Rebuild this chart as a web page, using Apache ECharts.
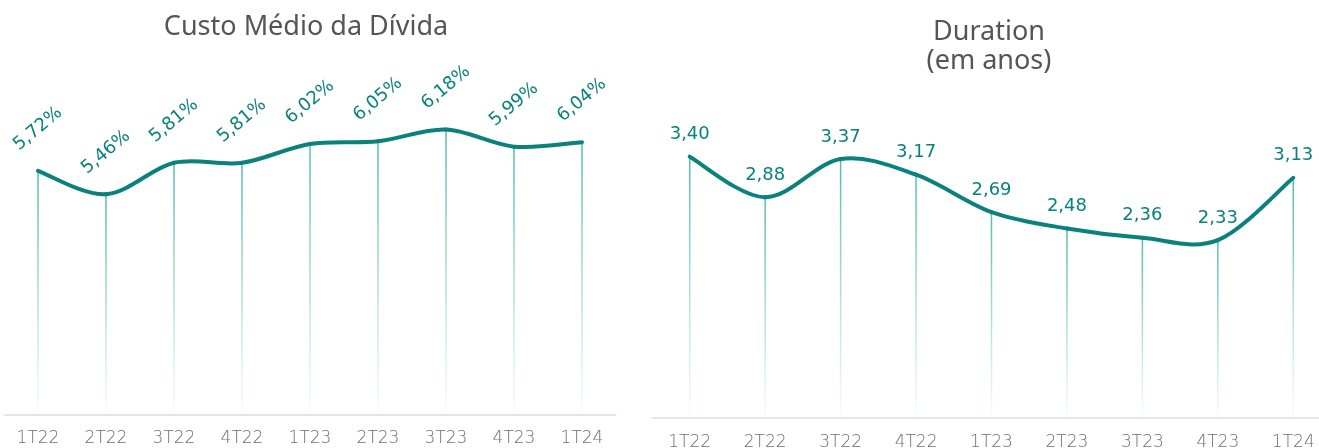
<!DOCTYPE html>
<html>
<head>
<meta charset="utf-8">
<script src="https://cdn.jsdelivr.net/npm/echarts@6/dist/echarts.min.js"></script>
<style>
  html, body { margin: 0; padding: 0; background: #fff; }
  #chart { width: 1319px; height: 448px; }
</style>
</head>
<body>
<div id="chart"></div>
<script>
// quarters shared by both panels
const quarters = ['1T22', '2T22', '3T22', '4T22', '1T23', '2T23', '3T23', '4T23', '1T24'];
// custo medio da divida (%)
const custoMedio = [5.72, 5.46, 5.81, 5.81, 6.02, 6.05, 6.18, 5.99, 6.04];
// duration (anos)
const duration = [3.40, 2.88, 3.37, 3.17, 2.69, 2.48, 2.36, 2.33, 3.13];

const TEAL = '#0a817d';
const FONT = 'DejaVu Sans';

const fmt = v => v.toFixed(2).replace('.', ',');

const dropColor = new echarts.graphic.LinearGradient(0, 0, 0, 1, [
  { offset: 0, color: 'rgba(84,188,175,1)' },
  { offset: 0.75, color: 'rgba(84,188,175,0.25)' },
  { offset: 1, color: 'rgba(84,188,175,0.03)' }
]);

function xAxisFor(gridIndex, margin) {
  return {
    type: 'category',
    gridIndex,
    data: quarters,
    axisLine: { lineStyle: { color: '#dedede', width: 1.5 } },
    axisTick: { show: false },
    axisLabel: { color: '#6e6e6e', fontSize: 17, fontFamily: FONT, fontWeight: 300, margin }
  };
}

function yAxisFor(gridIndex, min, max) {
  return { type: 'value', gridIndex, min, max, show: false, splitLine: { show: false } };
}

// thin fading drop line from each point down to the axis, carrying the value label
function dropSeries(idx, values, label) {
  return {
    type: 'bar',
    xAxisIndex: idx,
    yAxisIndex: idx,
    data: values,
    barWidth: 1.5,
    itemStyle: { color: dropColor },
    label: Object.assign({ show: true, position: 'top', color: TEAL, fontSize: 17, fontFamily: FONT }, label),
    silent: true,
    z: 1
  };
}

// smooth curve (excel-like cardinal spline) drawn segment by segment
function curveSeries(idx, values) {
  const n = values.length;
  return {
    type: 'custom',
    coordinateSystem: 'cartesian2d',
    xAxisIndex: idx,
    yAxisIndex: idx,
    data: values.map((v, i) => [i, v]),
    encode: { x: 0, y: 1 },
    silent: true,
    z: 3,
    renderItem(params, api) {
      const i = params.dataIndex;
      if (i >= n - 1) return null;
      const p = k => api.coord([Math.max(0, Math.min(n - 1, k)), values[Math.max(0, Math.min(n - 1, k))]]);
      const p0 = p(i - 1), p1 = p(i), p2 = p(i + 1), p3 = p(i + 2);
      const s = 1 / 6;
      return {
        type: 'bezierCurve',
        shape: {
          x1: p1[0], y1: p1[1],
          x2: p2[0], y2: p2[1],
          cpx1: p1[0] + (p2[0] - p0[0]) * s, cpy1: p1[1] + (p2[1] - p0[1]) * s,
          cpx2: p2[0] - (p3[0] - p1[0]) * s, cpy2: p2[1] - (p3[1] - p1[1]) * s
        },
        style: { stroke: TEAL, lineWidth: 4, fill: null, lineCap: 'round' }
      };
    }
  };
}

const chart = echarts.init(document.getElementById('chart'), null, { renderer: 'canvas' });

chart.setOption({
  animation: false,
  title: [
    {
      text: 'Custo Médio da Dívida',
      left: 301, top: 9, textAlign: 'center',
      textStyle: { fontFamily: 'Noto Sans', fontSize: 27, fontWeight: 'normal', color: '#555' }
    },
    {
      text: 'Duration\n(em anos)',
      left: 984, top: 13, textAlign: 'center',
      textStyle: { fontFamily: 'Noto Sans', fontSize: 27, fontWeight: 'normal', color: '#555', lineHeight: 29 }
    }
  ],
  grid: [
    { left: 4, width: 612, top: 56, bottom: 33, outerBoundsMode: 'none', containLabel: false },
    { left: 652, width: 679, top: 67, bottom: 30, outerBoundsMode: 'none', containLabel: false }
  ],
  xAxis: [xAxisFor(0, 15), xAxisFor(1, 16)],
  yAxis: [yAxisFor(0, 3, 7), yAxisFor(1, 0.05, 4.55)],
  series: [
    dropSeries(0, custoMedio, {
      distance: 42, rotate: 40, align: 'center', verticalAlign: 'middle', fontSize: 18,
      formatter: p => fmt(p.value) + '%'
    }),
    curveSeries(0, custoMedio),
    dropSeries(1, duration, {
      distance: 13, fontSize: 18,
      formatter: p => fmt(p.value)
    }),
    curveSeries(1, duration)
  ]
});
</script>
</body>
</html>
